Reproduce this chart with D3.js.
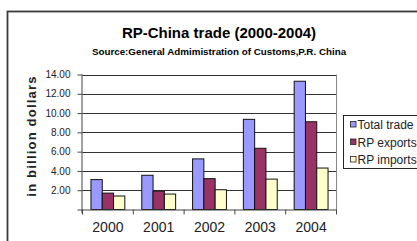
<!DOCTYPE html>
<html>
<head>
<meta charset="utf-8">
<script src="https://cdn.jsdelivr.net/npm/d3@7/dist/d3.min.js"></script>
<style>
  body { margin: 0; background: #fff; }
  svg { display: block; font-family: "Liberation Sans", Arial, sans-serif; }
</style>
</head>
<body>
<svg id="chart" width="417" height="241"></svg>
<script>
var years = ["2000", "2001", "2002", "2003", "2004"];
var seriesNames = ["Total trade", "RP exports", "RP imports"];
var totalTrade = [3.1, 3.55, 5.25, 9.35, 13.3];
var rpExports = [1.7, 1.9, 3.2, 6.35, 9.1];
var rpImports = [1.4, 1.6, 2.05, 3.15, 4.3];
var yTicks = [0, 2, 4, 6, 8, 10, 12, 14];
var colors = ["#9999ff", "#993366", "#ffffcc"];

var seriesValues = [totalTrade, rpExports, rpImports];

var svg = d3.select("#chart");
var plot = {left: 82.5, right: 336.5, top: 74.5, bottom: 209.5};

// outer chart border (runs off the right and bottom edge)
svg.append("rect")
  .attr("x", 7.5).attr("y", 11.5)
  .attr("width", 430).attr("height", 250)
  .attr("fill", "none").attr("stroke", "#3a3a3a").attr("stroke-width", 1.8);

svg.append("text")
  .attr("x", 219).attr("y", 38)
  .attr("text-anchor", "middle")
  .attr("font-size", 15).attr("font-weight", "bold")
  .text("RP-China trade (2000-2004)");

svg.append("text")
  .attr("x", 219).attr("y", 55)
  .attr("text-anchor", "middle")
  .attr("font-size", 9.8).attr("font-weight", "bold")
  .text("Source:General Admimistration of Customs,P.R. China");

var x0 = d3.scaleBand().domain(years).range([plot.left, plot.right]);
var x1 = d3.scaleBand().domain(seriesNames).range([0, x0.bandwidth()]).paddingOuter(0.75);
var y = d3.scaleLinear().domain([0, 14]).range([plot.bottom, plot.top]);

// gridlines
svg.append("g").selectAll("line")
  .data(yTicks.filter(function(d){ return d > 0; }))
  .enter().append("line")
  .attr("x1", plot.left).attr("x2", plot.right)
  .attr("y1", function(d){ return Math.round(y(d)) + 0.5; })
  .attr("y2", function(d){ return Math.round(y(d)) + 0.5; })
  .attr("stroke", "#333");

// right border of plot area
svg.append("line")
  .attr("x1", plot.right).attr("x2", plot.right)
  .attr("y1", plot.top).attr("y2", plot.bottom)
  .attr("stroke", "#888");

// bars
var groups = svg.append("g").selectAll("g")
  .data(years)
  .enter().append("g")
  .attr("transform", function(d){ return "translate(" + x0(d) + ",0)"; });

groups.selectAll("rect")
  .data(function(d, i){
    return seriesNames.map(function(s, j){ return {name: s, value: seriesValues[j][i], idx: j}; });
  })
  .enter().append("rect")
  .attr("x", function(d){ return x1(d.name); })
  .attr("y", function(d){ return y(d.value); })
  .attr("width", x1.bandwidth())
  .attr("height", function(d){ return y(0) - y(d.value); })
  .attr("fill", function(d){ return colors[d.idx]; })
  .attr("stroke", "#111").attr("stroke-width", 1);

// y axis
var yAxis = d3.axisLeft(y).tickValues(yTicks).tickSize(5).tickPadding(7)
  .tickFormat(function(d){ return d === 0 ? "" : d3.format(".2f")(d); });
var gy = svg.append("g").attr("transform", "translate(" + plot.left + ",0)").call(yAxis);
gy.select(".domain").attr("stroke", "#444").attr("d", "M-0.5," + plot.top + "V" + (plot.bottom + 4));
gy.selectAll(".tick line").attr("stroke", "#444");
gy.selectAll("text").attr("font-size", 10).attr("fill", "#222")
  .attr("font-family", "Liberation Sans, Arial, sans-serif");

// x axis
var xAxis = d3.axisBottom(x0).tickSize(0).tickPadding(13);
var gx = svg.append("g").attr("transform", "translate(0," + plot.bottom + ")").call(xAxis);
gx.select(".domain").attr("stroke", "#444").attr("d", "M" + plot.left + ",0.5H" + plot.right);
gx.selectAll("text").attr("font-size", 14).attr("fill", "#222")
  .attr("font-family", "Liberation Sans, Arial, sans-serif");
gx.selectAll(".sep")
  .data(years.concat(["end"]))
  .enter().append("line")
  .attr("class", "sep")
  .attr("x1", function(d, i){ return plot.left + i * x0.step(); })
  .attr("x2", function(d, i){ return plot.left + i * x0.step(); })
  .attr("y1", 0).attr("y2", 5)
  .attr("stroke", "#444");

// y axis title
svg.append("text")
  .attr("transform", "translate(36,136) rotate(-90)")
  .attr("text-anchor", "middle")
  .attr("font-size", 13).attr("font-weight", "bold")
  .attr("letter-spacing", 1.2)
  .attr("fill", "#222")
  .text("in billion dollars");

// legend
var legend = svg.append("g");
legend.append("rect")
  .attr("x", 343.5).attr("y", 115.5)
  .attr("width", 90).attr("height", 53)
  .attr("fill", "#fff").attr("stroke", "#222");

var items = legend.selectAll("g.item")
  .data(seriesNames)
  .enter().append("g").attr("class", "item")
  .attr("transform", function(d, i){ return "translate(0," + (125 + i * 17.5) + ")"; });
items.append("rect")
  .attr("x", 350.5).attr("y", -3.5)
  .attr("width", 5.5).attr("height", 5.5)
  .attr("fill", function(d, i){ return colors[i]; })
  .attr("stroke", "#222").attr("stroke-width", 0.8);
items.append("text")
  .attr("x", 357.5).attr("y", 4.2)
  .attr("font-size", 12).attr("fill", "#222")
  .text(function(d){ return d; });
</script>
</body>
</html>
